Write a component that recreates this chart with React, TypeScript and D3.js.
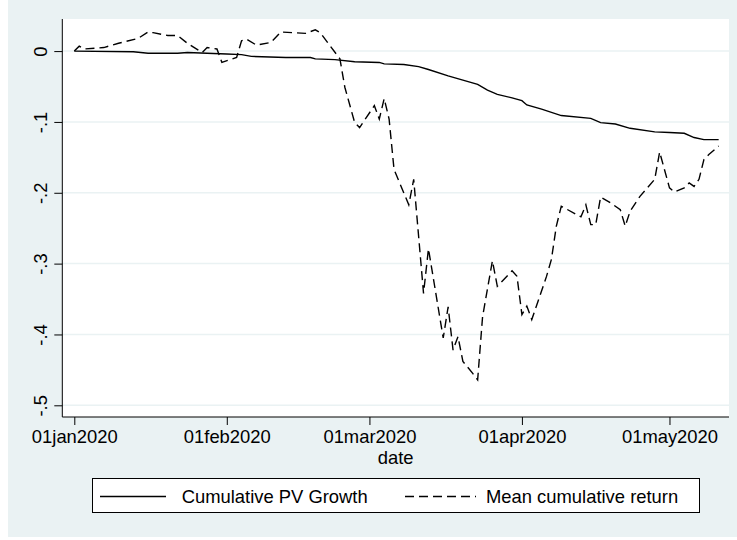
import React, { useEffect, useRef } from 'react';
import * as d3 from 'd3';

// Cumulative PV Growth (solid line)
const pvDates = [
  '2020-01-01', '2020-01-13', '2020-01-16', '2020-01-22', '2020-01-24', '2020-02-01',
  '2020-02-04', '2020-02-06', '2020-02-13', '2020-02-18', '2020-02-19', '2020-02-23',
  '2020-02-27', '2020-03-03', '2020-03-04', '2020-03-08', '2020-03-11', '2020-03-13',
  '2020-03-17', '2020-03-20', '2020-03-23', '2020-03-25', '2020-03-27', '2020-03-30',
  '2020-04-01', '2020-04-02', '2020-04-05', '2020-04-09', '2020-04-15', '2020-04-17',
  '2020-04-20', '2020-04-23', '2020-04-28', '2020-05-01', '2020-05-04', '2020-05-06',
  '2020-05-08', '2020-05-11',
];
const pvValues = [
  0, -0.001, -0.003, -0.003, -0.002, -0.004,
  -0.005, -0.0075, -0.009, -0.009, -0.011, -0.012,
  -0.015, -0.016, -0.018, -0.019, -0.022, -0.026,
  -0.035, -0.041, -0.047, -0.055, -0.061, -0.066,
  -0.07, -0.076, -0.082, -0.091, -0.095, -0.101,
  -0.103, -0.109, -0.114, -0.115, -0.116, -0.122,
  -0.125, -0.125,
];

// Mean cumulative return (dashed line)
const retDates = [
  '2020-01-01', '2020-01-02', '2020-01-03', '2020-01-07', '2020-01-10', '2020-01-14',
  '2020-01-16', '2020-01-17', '2020-01-20', '2020-01-22', '2020-01-24', '2020-01-27',
  '2020-01-28', '2020-01-29', '2020-01-30', '2020-01-31', '2020-02-03', '2020-02-04',
  '2020-02-05', '2020-02-07', '2020-02-10', '2020-02-12', '2020-02-17', '2020-02-19',
  '2020-02-20', '2020-02-24', '2020-02-25', '2020-02-27', '2020-02-28', '2020-03-02',
  '2020-03-03', '2020-03-04', '2020-03-05', '2020-03-06', '2020-03-09', '2020-03-10',
  '2020-03-12', '2020-03-13', '2020-03-16', '2020-03-17', '2020-03-18', '2020-03-19',
  '2020-03-20', '2020-03-22', '2020-03-23', '2020-03-24', '2020-03-26', '2020-03-27',
  '2020-03-30', '2020-03-31', '2020-04-01', '2020-04-02', '2020-04-03', '2020-04-06',
  '2020-04-07', '2020-04-08', '2020-04-09', '2020-04-13', '2020-04-14', '2020-04-15',
  '2020-04-16', '2020-04-17', '2020-04-19', '2020-04-21', '2020-04-22', '2020-04-23',
  '2020-04-25', '2020-04-28', '2020-04-29', '2020-05-01', '2020-05-02', '2020-05-04',
  '2020-05-05', '2020-05-06', '2020-05-07', '2020-05-08', '2020-05-09', '2020-05-11',
];
const retValues = [
  0, 0.007, 0.003, 0.005, 0.011, 0.018,
  0.027, 0.026, 0.022, 0.022, 0.011, -0.002,
  0.005, 0.004, 0.003, -0.016, -0.009, 0.0146,
  0.017, 0.0085, 0.0123, 0.027, 0.025, 0.03,
  0.026, -0.011, -0.051, -0.101, -0.108, -0.077,
  -0.096, -0.067, -0.096, -0.167, -0.217, -0.181,
  -0.342, -0.279, -0.405, -0.361, -0.422, -0.403,
  -0.438, -0.455, -0.464, -0.375, -0.296, -0.332,
  -0.31, -0.318, -0.372, -0.36, -0.379, -0.318,
  -0.294, -0.247, -0.219, -0.234, -0.217, -0.245,
  -0.245, -0.206, -0.214, -0.224, -0.247, -0.226,
  -0.205, -0.181, -0.1425, -0.193, -0.199, -0.193,
  -0.186, -0.191, -0.181, -0.153, -0.146, -0.134,
];

const xTickDates = ['2020-01-01', '2020-02-01', '2020-03-01', '2020-04-01', '2020-05-01'];
const xTickLabels = ['01jan2020', '01feb2020', '01mar2020', '01apr2020', '01may2020'];
const yTicks = [0, -0.1, -0.2, -0.3, -0.4, -0.5];
const yTickLabels = ['0', '-.1', '-.2', '-.3', '-.4', '-.5'];
const seriesNames = ['Cumulative PV Growth', 'Mean cumulative return'];

const W = 737;
const H = 540;
const BG = '#eaf2f3';
const FONT = 'Arial, "Liberation Sans", Helvetica, sans-serif';
const FS = '18.4px';

const App = () => {
  const svgRef = useRef(null);

  useEffect(() => {
    const svg = d3.select(svgRef.current);
    svg.selectAll('*').remove();

    const parse = d3.utcParse('%Y-%m-%d');
    const plot = { left: 62.3, right: 729, top: 19, bottom: 417 };

    const x = d3.scaleUtc()
      .domain([new Date(Date.UTC(2019, 11, 29, 13, 26)), new Date(Date.UTC(2020, 4, 13, 2, 24))])
      .range([plot.left, plot.right]);
    const y = d3.scaleLinear()
      .domain([-0.5165, 0.0453])
      .range([plot.bottom, plot.top]);

    // graph region
    svg.append('rect').attr('x', 8).attr('y', 0).attr('width', W - 8).attr('height', 537).attr('fill', BG);
    svg.append('rect')
      .attr('x', plot.left).attr('y', plot.top)
      .attr('width', plot.right - plot.left).attr('height', plot.bottom - plot.top)
      .attr('fill', '#fff');

    // gridlines
    svg.append('g')
      .selectAll('line')
      .data(yTicks)
      .enter()
      .append('line')
      .attr('x1', plot.left).attr('x2', plot.right)
      .attr('y1', d => y(d)).attr('y2', d => y(d))
      .attr('stroke', BG).attr('stroke-width', 1.5);

    const line = d3.line<any>()
      .x(d => x(d.date))
      .y(d => y(d.value));

    const pv = pvDates.map((d, i) => ({ date: parse(d), value: pvValues[i] }));
    const ret = retDates.map((d, i) => ({ date: parse(d), value: retValues[i] }));

    svg.append('path')
      .datum(pv)
      .attr('d', line)
      .attr('fill', 'none')
      .attr('stroke', '#000')
      .attr('stroke-width', 1.4);

    svg.append('path')
      .datum(ret)
      .attr('d', line)
      .attr('fill', 'none')
      .attr('stroke', '#000')
      .attr('stroke-width', 1.4)
      .attr('stroke-dasharray', '9,5');

    // y axis
    const yAxis = svg.append('g')
      .attr('transform', `translate(${plot.left},0)`)
      .call(d3.axisLeft(y).tickValues(yTicks).tickSize(8).tickFormat((d, i) => yTickLabels[i]));
    yAxis.select('.domain').attr('d', `M0,${plot.top}V${plot.bottom}`).attr('stroke', '#000');
    yAxis.selectAll('text')
      .attr('x', 0).attr('dy', 0)
      .attr('transform', 'translate(-15,0) rotate(-90)')
      .attr('text-anchor', 'middle')
      .style('font-family', FONT)
      .style('font-size', FS)
      .attr('fill', '#000');

    // x axis
    const xAxis = svg.append('g')
      .attr('transform', `translate(0,${plot.bottom})`)
      .call(d3.axisBottom(x).tickValues(xTickDates.map(d => parse(d))).tickSize(8)
        .tickFormat((d, i) => xTickLabels[i]));
    xAxis.select('.domain').attr('d', `M${plot.left},0H${plot.right}`).attr('stroke', '#000');
    xAxis.selectAll('text')
      .attr('y', 26).attr('dy', 0)
      .style('font-family', FONT)
      .style('font-size', FS)
      .attr('fill', '#000');

    svg.append('text')
      .attr('x', (plot.left + plot.right) / 2)
      .attr('y', 464)
      .attr('text-anchor', 'middle')
      .style('font-family', FONT)
      .style('font-size', FS)
      .text('date');

    // legend
    const lg = svg.append('g');
    lg.append('rect')
      .attr('x', 92.5).attr('y', 478.5).attr('width', 607).attr('height', 34)
      .attr('fill', '#fff').attr('stroke', '#000').attr('stroke-width', 1);
    lg.append('line')
      .attr('x1', 100).attr('x2', 166).attr('y1', 496.5).attr('y2', 496.5)
      .attr('stroke', '#000').attr('stroke-width', 1.4);
    lg.append('line')
      .attr('x1', 405).attr('x2', 476).attr('y1', 496.5).attr('y2', 496.5)
      .attr('stroke', '#000').attr('stroke-width', 1.4).attr('stroke-dasharray', '9,5');
    lg.selectAll('text.lab')
      .data(seriesNames)
      .enter()
      .append('text')
      .attr('class', 'lab')
      .attr('x', (d, i) => (i === 0 ? 181.7 : 486))
      .attr('y', 503)
      .style('font-family', FONT)
      .style('font-size', FS)
      .text(d => d);
  }, []);

  return (
    <svg
      ref={svgRef}
      width={W}
      height={H}
      style={{ position: 'absolute', left: 0, top: 0, display: 'block', background: '#fff' }}
    />
  );
};

export default App;
